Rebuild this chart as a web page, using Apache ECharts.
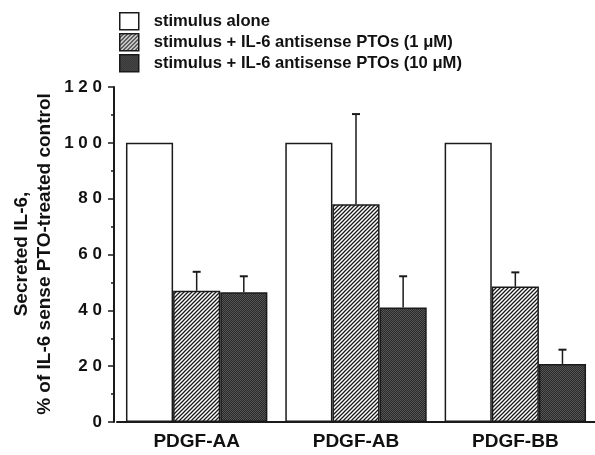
<!DOCTYPE html>
<html>
<head>
<meta charset="utf-8">
<script src="https://cdn.jsdelivr.net/npm/echarts@6/dist/echarts.min.js"></script>
<style>html,body{margin:0;padding:0;background:#fff;}#c{width:595px;height:455px;}</style>
</head>
<body>
<div id="c"></div>
<script>
const categories = ['PDGF-AA', 'PDGF-AB', 'PDGF-BB'];
const seriesNames = ['stimulus alone', 'stimulus + IL-6 antisense PTOs (1 \u03bcM)', 'stimulus + IL-6 antisense PTOs (10 \u03bcM)'];
const stimulusAlone = [100, 100, 100];
const antisense1uM = [47, 78, 48.5];
const antisense10uM = [46.5, 41, 20.8];
const antisense1uMUpper = [53.8, 110.3, 53.6];
const antisense10uMUpper = [52.2, 52.2, 25.9];
const yTitleLines = ['Secreted IL-6,', '% of IL-6 sense PTO-treated control'];

const FONT = 'Liberation Sans';
const INK = '#1a1a1a';

function hatchPattern() {
  const c = document.createElement('canvas');
  c.width = 4; c.height = 4;
  const g = c.getContext('2d');
  g.fillStyle = '#fff'; g.fillRect(0, 0, 4, 4);
  g.strokeStyle = '#1a1a1a'; g.lineWidth = 1.3;
  g.beginPath();
  g.moveTo(-1, 5); g.lineTo(5, -1);
  g.moveTo(-1, 1); g.lineTo(1, -1);
  g.moveTo(3, 5); g.lineTo(5, 3);
  g.stroke();
  return c;
}
function stipplePattern() {
  const c = document.createElement('canvas');
  c.width = 2; c.height = 2;
  const g = c.getContext('2d');
  g.fillStyle = '#2a2a2a'; g.fillRect(0, 0, 2, 2);
  g.fillStyle = '#555'; g.fillRect(0, 0, 1, 1); g.fillRect(1, 1, 1, 1);
  return c;
}

const CAT_GAP = 0.1125;
const barStyle = (color) => ({ color: color, borderColor: INK, borderWidth: 1.5 });

function errRender(seriesIdx) {
  return function (params, api) {
    const ci = api.value(0);
    const upper = api.value(1);
    const base = api.value(2);
    const band = api.size([1, 0])[0];
    const bw = band * (1 - CAT_GAP) / 3;
    const c = api.coord([ci, base]);
    const u = api.coord([ci, upper]);
    const x = c[0] + (seriesIdx - 1) * bw;
    const cap = 4;
    return {
      type: 'group',
      children: [
        { type: 'line', shape: { x1: x, y1: c[1], x2: x, y2: u[1] }, style: { stroke: INK, lineWidth: 1.5 } },
        { type: 'line', shape: { x1: x - cap, y1: u[1], x2: x + cap, y2: u[1] }, style: { stroke: INK, lineWidth: 2 } }
      ]
    };
  };
}

const chart = echarts.init(document.getElementById('c'), null, { renderer: 'canvas' });
const hatch = { image: hatchPattern(), repeat: 'repeat' };
const stipple = { image: stipplePattern(), repeat: 'repeat' };

chart.setOption({
  backgroundColor: '#ffffff',
  animation: false,
  textStyle: { fontFamily: FONT },
  grid: { left: 117, top: 87, width: 480, height: 335, containLabel: false },
  legend: {
    data: seriesNames,
    orient: 'vertical',
    left: 119, top: 12,
    padding: 0,
    itemWidth: 19, itemHeight: 17, itemGap: 2.5,
    icon: 'rect',
    itemStyle: { borderColor: INK, borderWidth: 1.5 },
    textStyle: { fontFamily: FONT, fontWeight: 'bold', fontSize: 16.6, color: '#111', padding: [0, 0, 0, 10] }
  },
  xAxis: {
    type: 'category',
    data: categories,
    axisLine: { lineStyle: { color: INK, width: 2 } },
    axisTick: { alignWithLabel: true, length: 5, lineStyle: { color: INK, width: 1.5 } },
    axisLabel: { fontFamily: FONT, fontWeight: 'bold', fontSize: 19, color: '#111', margin: 10 }
  },
  yAxis: {
    type: 'value',
    min: 0, max: 120, interval: 20,
    offset: 3,
    axisLine: { show: true, lineStyle: { color: INK, width: 2 } },
    axisTick: { show: true, length: 6, lineStyle: { color: INK, width: 1.5 } },
    minorTick: { show: true, splitNumber: 2, length: 3, lineStyle: { color: INK, width: 1.5 } },
    splitLine: { show: false },
    axisLabel: {
      fontFamily: FONT, fontWeight: 'bold', fontSize: 17, color: '#111', margin: 12,
      formatter: (v) => String(v).split('').join(' ')
    }
  },
  graphic: [
    { type: 'text', x: 22, y: 254, rotation: Math.PI / 2,
      style: { text: yTitleLines[0], fontFamily: FONT, fontWeight: 'bold', fontSize: 19, fill: '#111', textAlign: 'center', textVerticalAlign: 'middle' } },
    { type: 'text', x: 45, y: 254, rotation: Math.PI / 2,
      style: { text: yTitleLines[1], fontFamily: FONT, fontWeight: 'bold', fontSize: 19, fill: '#111', textAlign: 'center', textVerticalAlign: 'middle' } }
  ],
  series: [
    { name: seriesNames[0], type: 'bar', data: stimulusAlone, barGap: '0%', barCategoryGap: (CAT_GAP * 100) + '%', itemStyle: barStyle('#ffffff') },
    { name: seriesNames[1], type: 'bar', data: antisense1uM, barGap: '0%', barCategoryGap: (CAT_GAP * 100) + '%', itemStyle: barStyle(hatch) },
    { name: seriesNames[2], type: 'bar', data: antisense10uM, barGap: '0%', barCategoryGap: (CAT_GAP * 100) + '%', itemStyle: barStyle(stipple) },
    { type: 'custom', renderItem: errRender(1), z: 3,
      data: categories.map((c, i) => [i, antisense1uMUpper[i], antisense1uM[i]]) },
    { type: 'custom', renderItem: errRender(2), z: 3,
      data: categories.map((c, i) => [i, antisense10uMUpper[i], antisense10uM[i]]) }
  ]
});
</script>
</body>
</html>
